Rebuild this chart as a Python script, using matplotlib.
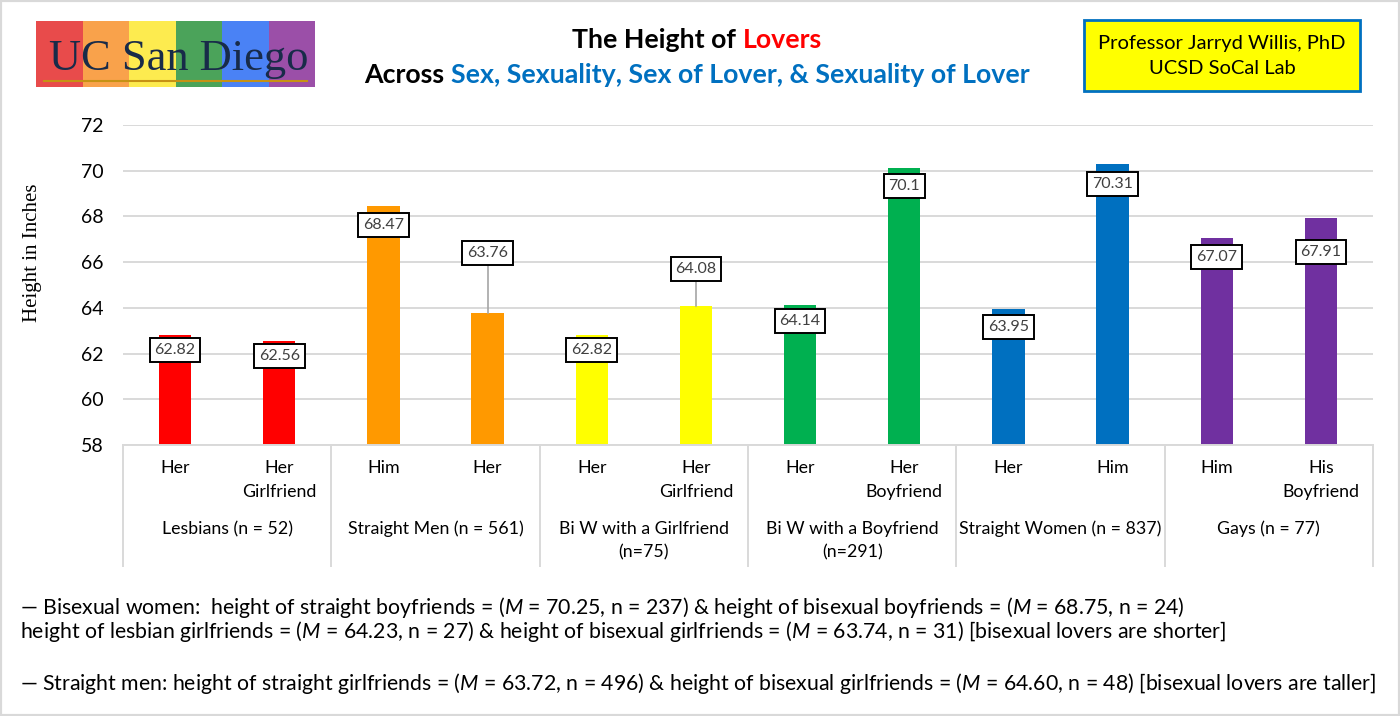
import numpy as np
import matplotlib
matplotlib.use("Agg")
import matplotlib.pyplot as plt
from matplotlib import transforms
from matplotlib.patches import Rectangle
from matplotlib.lines import Line2D

plt.rcParams['font.family'] = ['Lato', 'DejaVu Sans']
plt.rcParams['mathtext.fontset'] = 'custom'
plt.rcParams['mathtext.it'] = 'Lato:italic'
plt.rcParams['mathtext.rm'] = 'Lato'

# data
sub_labels = ['Her', 'Her\nGirlfriend', 'Him', 'Her', 'Her', 'Her\nGirlfriend',
              'Her', 'Her\nBoyfriend', 'Her', 'Him', 'Him', 'His\nBoyfriend']
heights = [62.82, 62.56, 68.47, 63.76, 62.82, 64.08, 64.14, 70.1, 63.95, 70.31, 67.07, 67.91]
value_text = ['62.82', '62.56', '68.47', '63.76', '62.82', '64.08',
              '64.14', '70.1', '63.95', '70.31', '67.07', '67.91']
groups = ['Lesbians (n = 52)', 'Straight Men (n = 561)', 'Bi W with a Girlfriend\n(n=75)',
          'Bi W with a Boyfriend\n(n=291)', 'Straight Women (n = 837)', 'Gays (n = 77)']
group_colors = ['#FF0000', '#FF9900', '#FFFF00', '#00B050', '#0070C0', '#7030A0']

# label placement (offset from bar top, inches) and leader lines
label_off = [-0.66, -0.67, -0.85, 2.64, -0.66, 1.62, -0.72, -0.77, -0.79, -0.89, -0.85, -1.47]

W, H = 1400, 716
fig = plt.figure(figsize=(14, 7.16), dpi=100)
ax = fig.add_axes([123 / W, 1 - 445 / H, 1250 / W, 320 / H])

x = np.arange(len(heights))
colors = [group_colors[i // 2] for i in x]
ax.bar(x, np.array(heights) - 58, bottom=58, width=0.31, color=colors, zorder=2)
ax.set_xlim(-0.5, len(heights) - 0.5)
ax.set_ylim(58, 72)
ax.set_yticks(np.arange(58, 73, 2))
ax.tick_params(axis='y', length=0, pad=14, labelsize=14)
ax.set_xticks([])
ax.yaxis.grid(True, color='#D9D9D9', lw=1.4)
ax.set_axisbelow(True)
for s in ['top', 'right', 'left']:
    ax.spines[s].set_visible(False)
ax.spines['bottom'].set_color('#D9D9D9')
ax.spines['bottom'].set_linewidth(1.4)

for i in x:
    ly = heights[i] + label_off[i]
    if label_off[i] > 0:
        ax.plot([i, i], [heights[i], ly], color='#A6A6A6', lw=1.2, zorder=3)
    ax.text(i, ly, value_text[i], ha='center', va='center', fontsize=11.5, color='#404040', zorder=4,
            bbox=dict(boxstyle='square,pad=0.3', fc='white', ec='black', lw=1.4))

# multi-level category axis
tr = transforms.blended_transform_factory(ax.transData, fig.transFigure)
for i in x:
    for k, line in enumerate(sub_labels[i].split('\n')):
        fig.text(i, 1 - (468 + 24 * k) / H, line, transform=tr, ha='center', va='center', fontsize=12.8)
for g, name in enumerate(groups):
    for k, line in enumerate(name.split('\n')):
        fig.text(2 * g + 0.5, 1 - (529 + 23 * k) / H, line, transform=tr, ha='center', va='center', fontsize=12.8)
for b in np.arange(-0.5, len(heights), 2):
    fig.add_artist(Line2D([b, b], [1 - 445 / H, 1 - 566 / H], transform=tr, color='#D9D9D9', lw=1.4))

fig.text(33 / W, 1 - 253 / H, 'Height in Inches', rotation=90, ha='center', va='center',
         fontsize=15, family='Liberation Serif')

# title with coloured parts
renderer = fig.canvas.get_renderer()


def colored_line(xc, y, pieces, **kw):
    full = ''.join(p for p, c in pieces)
    t = fig.text(xc, y, full, ha='center', va='center', alpha=0, **kw)
    bb = t.get_window_extent(renderer)
    for j, (p, c) in enumerate(pieces):
        suffix = ''.join(q for q, d in pieces[j:])
        s = fig.text(0, 0, suffix, **kw)
        ws = s.get_window_extent(renderer).width
        s.remove()
        fig.text((bb.x1 - ws) / W, y, p, ha='left', va='center', color=c, **kw)


colored_line(697 / W, 1 - 40 / H, [('The Height of ', 'black'), ('Lovers', '#FF0000')],
             fontsize=19.3, fontweight='bold')
colored_line(697 / W, 1 - 75 / H, [('Across ', 'black'),
                                   ('Sex, Sexuality, Sex of Lover, & Sexuality of Lover', '#0070C0')],
             fontsize=19.3, fontweight='bold')

# logo
logo_cols = ['#E84B4B', '#F9A24B', '#FDEB4F', '#4BA35A', '#4A82F5', '#9B4FA8']
lx0, lx1, ly0, ly1 = 36, 315, 21, 87
sw = (lx1 - lx0) / 6
for k, c in enumerate(logo_cols):
    fig.add_artist(Rectangle(((lx0 + k * sw) / W, 1 - ly1 / H), sw / W, (ly1 - ly0) / H,
                             transform=fig.transFigure, color=c, lw=0))
fig.add_artist(Line2D([44 / W, 307 / W], [1 - 81 / H, 1 - 81 / H], color='#C69214', lw=1.5))
fig.text(179 / W, 1 - 70 / H, 'UC San Diego', ha='center', va='baseline', fontsize=32,
         family='Liberation Serif', color='#182B49')

# info box
fig.add_artist(Rectangle((1084 / W, 1 - 91 / H), 276 / W, 71 / H, transform=fig.transFigure,
                         fc='#FFFF00', ec='#0070C0', lw=2))
fig.text(1222 / W, 1 - 43 / H, 'Professor Jarryd Willis, PhD', ha='center', va='center', fontsize=14.5)
fig.text(1222 / W, 1 - 69 / H, 'UCSD SoCal Lab', ha='center', va='center', fontsize=14.5)

# footnotes
foot = [
    (607, '— Bisexual women:  height of straight boyfriends = ($M$ = 70.25, n = 237) & height of bisexual boyfriends = ($M$ = 68.75, n = 24)'),
    (632, 'height of lesbian girlfriends = ($M$ = 64.23, n = 27) & height of bisexual girlfriends = ($M$ = 63.74, n = 31) [bisexual lovers are shorter]'),
    (684, '— Straight men: height of straight girlfriends = ($M$ = 63.72, n = 496) & height of bisexual girlfriends = ($M$ = 64.60, n = 48) [bisexual lovers are taller]'),
]
for py, s in foot:
    fig.text(20 / W, 1 - py / H, s, ha='left', va='center', fontsize=15.3)

fig.add_artist(Rectangle((0, 0), 1, 1, transform=fig.transFigure, fill=False, ec='#D9D9D9', lw=3))

fig.savefig('out.png', dpi=100)
